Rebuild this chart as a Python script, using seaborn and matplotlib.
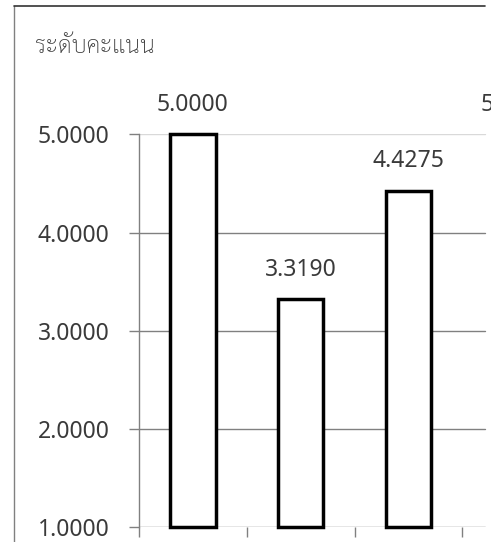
import matplotlib
matplotlib.use("Agg")
import matplotlib.pyplot as plt
from matplotlib.patches import Rectangle
import seaborn as sns
import pandas as pd

categories = ["A", "B", "C", "D"]
values = [5.0, 3.319, 4.4275, 5.0]
title_text = "ระดับคะแนน"
yticks = [1, 2, 3, 4, 5]

sns.set_theme(style="white")
plt.rcParams['font.family'] = ['Noto Sans', 'Noto Sans Thai Looped', 'DejaVu Sans']
TXT = "#3a3a3a"

fig = plt.figure(figsize=(5.03, 5.42), dpi=100)
ax = fig.add_axes([139/503, 14.7/542, 431/503, 393/542])

df = pd.DataFrame({"cat": categories, "val": values})
sns.barplot(data=df, x="cat", y="val", ax=ax, color="white", edgecolor="black",
            linewidth=2.5, width=0.42, zorder=3)
for p, v in zip(ax.patches, values):
    p.set_y(1)
    p.set_height(v - 1)
    p.set_clip_on(False)
ax.set_xlim(-0.5, 3.5)
ax.set_ylim(1, 5)

grid_end = (485 - 139) / 431
for y in yticks:
    ax.axhline(y, xmin=0, xmax=grid_end, color="#d9d9d9" if y == 5 else "#808080",
               linewidth=1, zorder=1)

for i, v in enumerate(values):
    ax.text(i, v + 0.3, f"{v:.4f}", ha="center", va="center", fontsize=16.5,
            color=TXT, clip_on=False)

ax.set_yticks(yticks)
ax.set_yticklabels([f"{y:.4f}" for y in yticks], fontsize=16.5, color=TXT)
ax.set_xticks([-0.5, 0.5, 1.5, 2.5, 3.5])
ax.set_xticklabels([])
ax.tick_params(axis="both", direction="out", length=7.2, width=1, color="#808080",
               left=True, bottom=True)
ax.tick_params(axis="y", pad=14)
ax.set_xlabel("")
ax.set_ylabel("")
for s in ["top", "right", "bottom"]:
    ax.spines[s].set_visible(False)
ax.spines["left"].set_color("#808080")
ax.spines["left"].set_linewidth(1)

fig.text(35/503, 1 - 47/542, title_text, ha="left", va="center", fontsize=17,
         fontweight="light", color=TXT,
         family=['Sarabun', 'Noto Sans Thai Looped', 'DejaVu Sans'])

fig.add_artist(plt.Line2D([14/503, 14/503], [0, 1 - 6/542], color="#808080", lw=1))
fig.add_artist(plt.Line2D([14/503, 485/503], [1 - 6/542, 1 - 6/542], color="#333333", lw=1.2))
fig.add_artist(Rectangle((491/503, 0), 12/503, 1, transform=fig.transFigure,
                         facecolor="white", edgecolor="none", zorder=10))

fig.savefig("out.png", dpi=100)
